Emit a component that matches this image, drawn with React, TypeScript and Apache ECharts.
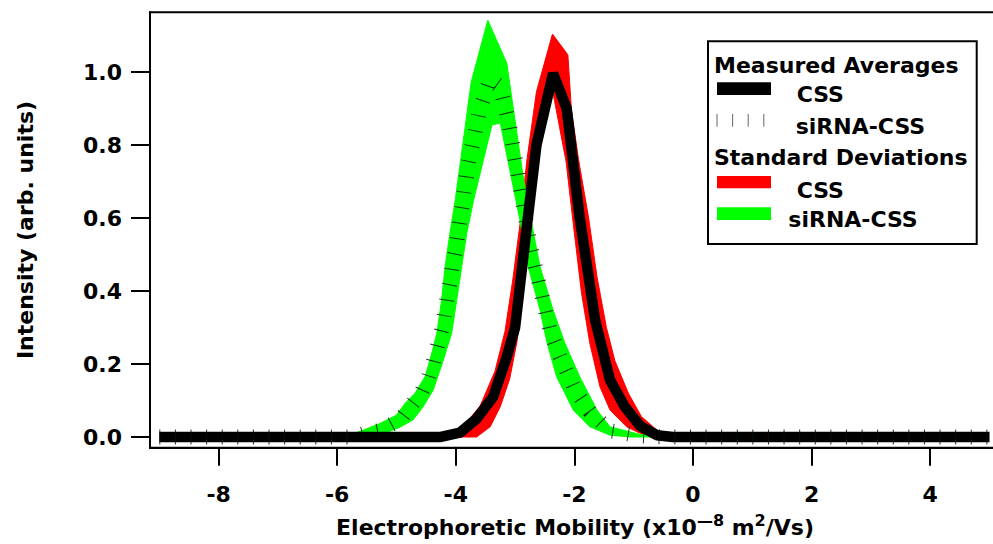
import React, { useEffect, useRef } from 'react';
import * as echarts from 'echarts';

const FONT = '"DejaVu Sans", "Liberation Sans", sans-serif';

// Tick values
const xTickValues = [-8, -6, -4, -2, 0, 2, 4];
const yTickValues = [0, 0.2, 0.4, 0.6, 0.8, 1.0];

// Measured average, CSS (thick black line)
const meanCSS: [number, number][] = [
  [-9, 0], [-4.27, 0], [-3.93, 0.012], [-3.65, 0.05], [-3.37, 0.11], [-3.14, 0.22],
  [-3.0, 0.3], [-2.9, 0.44], [-2.8, 0.58], [-2.64, 0.8], [-2.36, 0.996], [-2.13, 0.9],
  [-1.91, 0.6], [-1.65, 0.32], [-1.4, 0.156], [-1.15, 0.083], [-0.89, 0.03],
  [-0.61, 0.005], [-0.34, 0], [5, 0],
];

// Measured average, siRNA-CSS (dashed)
const meanSiRNA: [number, number][] = [
  [-9, 0], [-5.8, 0], [-5.28, 0.018], [-4.94, 0.047], [-4.77, 0.083], [-4.575, 0.124],
  [-4.46, 0.165], [-4.38, 0.206], [-4.31, 0.25], [-4.24, 0.293], [-4.19, 0.337],
  [-4.15, 0.38], [-4.1, 0.423], [-4.06, 0.467], [-4.01, 0.508], [-3.93, 0.595],
  [-3.89, 0.636], [-3.79, 0.75], [-3.59, 0.9], [-3.42, 0.98], [-3.25, 0.96],
  [-3.09, 0.85], [-2.92, 0.69], [-2.75, 0.53], [-2.58, 0.41], [-2.41, 0.29],
  [-2.24, 0.22], [-1.99, 0.13], [-1.74, 0.07], [-1.4, 0.017], [-0.89, 0.003],
  [-0.5, 0], [5, 0],
];

// Standard deviation band, CSS (red)
const sdCSSUpper: [number, number][] = [
  [-4.15, 0], [-3.87, 0.03], [-3.59, 0.085], [-3.34, 0.18], [-3.17, 0.29], [-3.04, 0.43],
  [-2.92, 0.58], [-2.8, 0.76], [-2.64, 0.946], [-2.37, 1.104], [-2.11, 1.047],
  [-2.05, 0.896], [-1.93, 0.76], [-1.76, 0.6], [-1.62, 0.44], [-1.46, 0.3],
  [-1.32, 0.21], [-1.09, 0.12], [-0.87, 0.056], [-0.61, 0.019], [-0.33, 0],
];
const sdCSSLower: [number, number][] = [
  [-3.65, 0], [-3.42, 0.028], [-3.25, 0.083], [-3.09, 0.16], [-2.97, 0.26], [-2.86, 0.41],
  [-2.72, 0.62], [-2.58, 0.786], [-2.37, 0.951], [-2.14, 0.754], [-2.02, 0.585],
  [-1.88, 0.394], [-1.74, 0.257], [-1.57, 0.138], [-1.4, 0.074], [-1.12, 0.028],
  [-0.89, 0.01], [-0.62, 0],
];

// Standard deviation band, siRNA-CSS (green)
const sdSiRNAUpper: [number, number][] = [
  [-5.87, 0], [-5.56, 0.019], [-5.28, 0.037], [-5.0, 0.06], [-4.857, 0.092], [-4.688, 0.12],
  [-4.52, 0.165], [-4.435, 0.211], [-4.32, 0.284], [-4.24, 0.375], [-4.18, 0.467],
  [-4.1, 0.558], [-4.01, 0.649], [-3.74, 0.973], [-3.46, 1.142], [-3.14, 1.024],
  [-2.87, 0.72], [-2.7, 0.567], [-2.58, 0.467], [-2.36, 0.348], [-2.16, 0.257],
  [-1.91, 0.165], [-1.62, 0.074], [-1.4, 0.028], [-0.89, 0.007], [-0.3, 0],
];
const sdSiRNALower: [number, number][] = [
  [-5.28, 0], [-5.17, 0.012], [-4.94, 0.027], [-4.72, 0.047], [-4.55, 0.083], [-4.38, 0.129],
  [-4.21, 0.211], [-4.07, 0.284], [-3.985, 0.375], [-3.9, 0.467], [-3.815, 0.558],
  [-3.7, 0.649], [-3.39, 0.855], [-3.25, 0.86], [-2.92, 0.595], [-2.78, 0.467],
  [-2.58, 0.348], [-2.46, 0.257], [-2.3, 0.165], [-2.02, 0.074], [-1.74, 0.028],
  [-1.4, 0.005], [-1.06, 0],
];

const legendHeaders = ['Measured Averages', 'Standard Deviations'];
const legendNames = ['CSS', 'siRNA-CSS', 'CSS', 'siRNA-CSS'];

function bandSeries(upper: [number, number][], lower: [number, number][], color: string) {
  return {
    type: 'custom',
    coordinateSystem: 'cartesian2d',
    silent: true,
    clip: true,
    data: [[upper[0][0], 0]],
    renderItem: (_params: any, api: any) => {
      const pts = [
        ...upper.map((p) => api.coord(p)),
        ...lower.slice().reverse().map((p) => api.coord(p)),
      ];
      return {
        type: 'polygon',
        shape: { points: pts },
        style: { fill: color, stroke: color, lineWidth: 1 },
      };
    },
  };
}

const txt = (text: string, x: number, y: number) => ({
  type: 'text',
  x,
  y,
  z: 101,
  silent: true,
  style: {
    text,
    fill: '#000',
    fontSize: 22,
    fontWeight: 'bold',
    fontFamily: FONT,
    textAlign: 'left',
    align: 'left',
    textVerticalAlign: 'middle',
    verticalAlign: 'middle',
  },
});

export default function App() {
  const ref = useRef<HTMLDivElement>(null);
  useEffect(() => {
    if (!ref.current) return;
    const chart = echarts.init(ref.current, undefined, { renderer: 'svg' });
    const axisFont = { fontFamily: FONT, fontWeight: 'bold' as const, fontSize: 22, color: '#000' };
    chart.setOption({
      animation: false,
      backgroundColor: '#fff',
      grid: {
        left: 150,
        top: 12.3,
        width: 850,
        height: 435.4,
        show: true,
        borderColor: '#000',
        borderWidth: 2,
        backgroundColor: 'transparent',
        containLabel: false,
        outerBoundsMode: 'none',
      },
      xAxis: {
        type: 'value',
        min: -9.157,
        max: 5.177,
        splitLine: { show: false },
        axisLine: { show: true, onZero: false, lineStyle: { color: '#000', width: 2 } },
        axisTick: {
          show: true,
          inside: false,
          length: 18,
          lineStyle: { color: '#000', width: 2 },
          customValues: xTickValues,
        },
        axisLabel: {
          ...axisFont,
          margin: 36,
          customValues: xTickValues,
          formatter: (v: number) => String(v),
        },
        name: 'Electrophoretic Mobility (x10{sup|—8} m{sup|2}/Vs)',
        nameLocation: 'middle',
        nameGap: 65,
        nameTextStyle: {
          ...axisFont,
          lineHeight: 30,
          rich: {
            sup: {
              fontFamily: FONT,
              fontWeight: 'bold',
              fontSize: 16,
              color: '#000',
              lineHeight: 16,
              verticalAlign: 'top',
            },
          },
        },
      },
      yAxis: {
        type: 'value',
        min: -0.0293,
        max: 1.1636,
        splitLine: { show: false },
        axisLine: { show: true, onZero: false, lineStyle: { color: '#000', width: 2 } },
        axisTick: {
          show: true,
          inside: false,
          length: 19,
          lineStyle: { color: '#000', width: 2 },
          customValues: yTickValues,
        },
        axisLabel: {
          ...axisFont,
          margin: 28,
          customValues: yTickValues,
          formatter: (v: number) => v.toFixed(1),
        },
        name: 'Intensity (arb. units)',
        nameLocation: 'middle',
        nameGap: 114,
        nameTextStyle: { ...axisFont },
      },
      series: [
        bandSeries(sdCSSUpper, sdCSSLower, '#ff0000'),
        bandSeries(sdSiRNAUpper, sdSiRNALower, '#00ff00'),
        {
          type: 'line',
          data: meanCSS,
          showSymbol: false,
          silent: true,
          lineStyle: { color: '#000', width: 10.5, cap: 'butt', join: 'bevel' },
        },
        {
          type: 'line',
          data: meanSiRNA,
          showSymbol: false,
          silent: true,
          lineStyle: {
            color: 'rgba(0,20,0,0.85)',
            width: 15,
            type: [1, 14.6],
            cap: 'butt',
          },
        },
      ],
      graphic: [
        {
          type: 'rect',
          silent: true,
          z: 100,
          shape: { x: 708, y: 41.3, width: 268.7, height: 202.7 },
          style: { fill: '#fff', stroke: '#000', lineWidth: 2 },
        },
        txt(legendHeaders[0], 714, 65.7),
        {
          type: 'rect',
          silent: true,
          z: 101,
          shape: { x: 717, y: 82.3, width: 54, height: 12.7 },
          style: { fill: '#000' },
        },
        txt(legendNames[0], 796.7, 94.8),
        {
          type: 'line',
          silent: true,
          z: 101,
          shape: { x1: 716.5, y1: 120.3, x2: 772, y2: 120.3 },
          style: { stroke: '#666', lineWidth: 12.7, lineDash: [1, 14.6], lineCap: 'butt' },
        },
        txt(legendNames[1], 795.7, 126.5),
        txt(legendHeaders[1], 714, 157.7),
        {
          type: 'rect',
          silent: true,
          z: 101,
          shape: { x: 717, y: 176, width: 54, height: 12.3 },
          style: { fill: '#ff0000' },
        },
        txt(legendNames[2], 796.7, 190.2),
        {
          type: 'rect',
          silent: true,
          z: 101,
          shape: { x: 717, y: 207.3, width: 54, height: 12.7 },
          style: { fill: '#00ff00' },
        },
        txt(legendNames[3], 788.3, 219.3),
      ],
    });
    return () => chart.dispose();
  }, []);
  return (
    <div
      ref={ref}
      style={{ position: 'fixed', left: 0, top: 0, width: 993, height: 544, background: '#fff' }}
    />
  );
}
